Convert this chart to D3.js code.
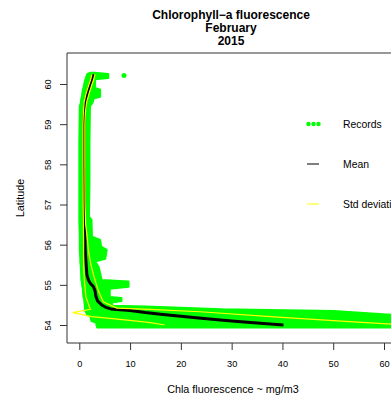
<!DOCTYPE html>
<html>
<head>
<meta charset="utf-8">
<script src="https://cdn.jsdelivr.net/npm/d3@7"></script>
<style>
    body { margin: 0; background: #fff; }
    text { font-family: "Liberation Sans", Arial, sans-serif; }
</style>
</head>
<body>
<div id="chart"></div>
<script>
const titleLines = ['Chlorophyll\u2212a fluorescence', 'February', '2015']
const xTicks = [0, 10, 20, 30, 40, 50, 60]
const yTicks = [54, 55, 56, 57, 58, 59, 60]
const legendLabels = ['Records', 'Mean', 'Std deviation']

// records envelope: latitude, min chla, max chla
const recordsLat = [60.28, 60.25, 60.15, 60.12, 59.9, 59.86, 59.68, 59.64, 59.53, 59.45, 58.5, 57.5, 56.7, 56.62, 56.2, 56.12, 55.95, 55.87, 55.65, 55.58, 55.45, 55.12, 55.08, 54.95, 54.9, 54.7, 54.67, 54.6, 54.56, 54.48, 54.46, 54.39, 54.35, 54.25, 54.2, 54.1, 54.06, 53.94]
const recordsMin = [2.2, 1.6, 1.3, 1.2, 0.8, 0.7, 0.5, 0.4, 0.3, 0.1, 0.0, 0.0, 0.0, 0.0, 0.1, 0.1, 0.1, 0.1, 0.2, 0.2, 0.3, 0.4, 0.5, 0.6, 0.7, 0.8, 0.9, 1.0, 1.0, 1.1, 1.1, 1.1, 1.2, 1.6, 2.2, 2.4, 3.3, 3.5]
const recordsMax = [3.0, 5.7, 5.7, 3.1, 3.1, 4.1, 4.1, 2.8, 2.6, 2.1, 2.0, 2.0, 1.9, 2.4, 2.5, 4.1, 4.3, 5.4, 5.1, 3.1, 3.8, 4.4, 9.7, 9.7, 6.0, 6.0, 8.3, 8.3, 6.4, 6.5, 13, 28, 50, 62, 66, 66, 66, 66]
const outlierChla = [8.8]
const outlierLat = [60.21]

const meanChla = [2.8, 2.5, 2.1, 1.6, 1.2, 1.0, 0.9, 0.9, 0.9, 0.95, 1.0, 1.0, 1.1, 1.2, 1.35, 1.5, 1.8, 2.2, 2.8, 3.1, 3.3, 3.6, 4.4, 5.2, 6.2, 8, 10, 13, 16, 20, 24, 30, 35, 40.2]
const meanLat = [60.24, 60.12, 59.98, 59.78, 59.55, 59.3, 59.0, 58.5, 58.0, 57.5, 57.0, 56.5, 56.1, 55.8, 55.5, 55.25, 55.12, 55.03, 54.95, 54.85, 54.7, 54.6, 54.5, 54.44, 54.4, 54.38, 54.36, 54.31, 54.27, 54.22, 54.17, 54.1, 54.05, 54.0]

const sdUpperChla = [3.1, 2.8, 2.4, 1.9, 1.45, 1.2, 1.1, 1.1, 1.15, 1.25, 1.6, 1.8, 2.3, 2.9, 3.7, 4.7, 7.4, 13.9, 23.8, 37.6, 50, 61.4, 65]
const sdUpperLat = [60.24, 60.1, 59.95, 59.75, 59.55, 59.3, 59.0, 58.0, 57.0, 56.5, 56.15, 55.85, 55.5, 55.2, 54.87, 54.58, 54.42, 54.39, 54.33, 54.21, 54.11, 54.02, 53.99]
const sdLowerChla = [2.5, 2.2, 1.8, 1.3, 0.95, 0.8, 0.7, 0.7, 0.75, 0.8, 0.85, 0.85, 1.0, 1.3, 2.0, 2.2, -1.3, 2.4, 9, 14, 16.8]
const sdLowerLat = [60.24, 60.1, 59.95, 59.75, 59.55, 59.3, 59.0, 58.0, 57.0, 56.5, 56.1, 55.5, 55.1, 54.7, 54.45, 54.39, 54.31, 54.21, 54.13, 54.06, 54.0]

const width = 391
const height = 399
const plot = { left: 67, right: 420, top: 53, bottom: 343 }

const svg = d3.select('#chart')
    .append('svg')
    .attr('width', width)
    .attr('height', height)

const x = d3.scaleLinear().domain([0, 60]).range([79.3, 384])
const y = d3.scaleLinear().domain([54, 60]).range([325, 84])

svg.append('clipPath')
    .attr('id', 'plot-clip')
    .append('rect')
    .attr('x', plot.left)
    .attr('y', plot.top)
    .attr('width', plot.right - plot.left)
    .attr('height', plot.bottom - plot.top)

const bounds = svg.append('g').attr('clip-path', 'url(#plot-clip)')

// records
const recordsArea = d3.area()
    .y(i => y(recordsLat[i]))
    .x0(i => x(recordsMin[i]))
    .x1(i => x(recordsMax[i]))
bounds.append('path')
    .attr('d', recordsArea(d3.range(recordsLat.length)))
    .attr('fill', '#00ff00')
    .attr('stroke', '#00ff00')
    .attr('stroke-width', 2)
    .attr('stroke-linejoin', 'round')
bounds.selectAll('.outlier')
    .data(outlierChla)
    .join('circle')
    .attr('cx', d => x(d))
    .attr('cy', (d, i) => y(outlierLat[i]))
    .attr('r', 2.5)
    .attr('fill', '#00ff00')

const line = (xs, ys) => d3.line()
    .x(i => x(xs[i]))
    .y(i => y(ys[i]))(d3.range(xs.length))

bounds.append('path')
    .attr('d', line(meanChla, meanLat))
    .attr('fill', 'none')
    .attr('stroke', '#000')
    .attr('stroke-width', 3)
    .attr('stroke-linejoin', 'round')

for (const [xs, ys] of [[sdUpperChla, sdUpperLat], [sdLowerChla, sdLowerLat]]) {
    bounds.append('path')
        .attr('d', line(xs, ys))
        .attr('fill', 'none')
        .attr('stroke', '#ffff00')
        .attr('stroke-width', 1.2)
}

// box
svg.append('path')
    .attr('d', `M${plot.right},${plot.top}H${plot.left}V${plot.bottom}H${plot.right}`)
    .attr('fill', 'none')
    .attr('stroke', '#333')

// axes
const xAxis = svg.append('g').attr('transform', `translate(0,${plot.bottom})`)
    .call(d3.axisBottom(x).tickValues(xTicks).tickSize(7).tickPadding(10).tickFormat(d3.format('d')))
xAxis.select('.domain').remove()
xAxis.selectAll('line').attr('stroke', '#333')
xAxis.selectAll('text').attr('font-size', 9.2).attr('fill', '#000')
    .attr('font-family', '"Liberation Sans", Arial, sans-serif')

const yAxis = svg.append('g').attr('transform', `translate(${plot.left},0)`)
    .call(d3.axisLeft(y).tickValues(yTicks).tickSize(7).tickFormat(d3.format('d')))
yAxis.select('.domain').remove()
yAxis.selectAll('line').attr('stroke', '#333')
yAxis.selectAll('text').remove()
yAxis.selectAll('.tick').append('text')
    .attr('transform', 'translate(-16,0) rotate(-90)')
    .attr('text-anchor', 'middle')
    .attr('font-size', 9.2)
    .attr('fill', '#000')
    .text(d => d)

// titles
svg.append('g').selectAll('text')
    .data(titleLines)
    .join('text')
    .attr('x', 231)
    .attr('y', (d, i) => 18.5 + i * 13)
    .attr('text-anchor', 'middle')
    .attr('font-size', 12)
    .attr('font-weight', 'bold')
    .text(d => d)

svg.append('text')
    .attr('x', 233)
    .attr('y', 393)
    .attr('text-anchor', 'middle')
    .attr('font-size', 10.8)
    .text('Chla fluorescence ~ mg/m3')

svg.append('text')
    .attr('transform', 'translate(24,198) rotate(-90)')
    .attr('text-anchor', 'middle')
    .attr('font-size', 10.8)
    .text('Latitude')

// legend
const legend = svg.append('g')
legendLabels.forEach((label, i) => {
    const ly = 124 + i * 40
    if (i === 0) {
        legend.selectAll('.dot')
            .data([308.5, 313.5, 318.5])
            .join('circle')
            .attr('cx', d => d)
            .attr('cy', ly)
            .attr('r', 2.2)
            .attr('fill', '#00ff00')
    } else {
        legend.append('line')
            .attr('x1', 307).attr('x2', 319)
            .attr('y1', ly).attr('y2', ly)
            .attr('stroke', i === 1 ? '#000' : '#ffff00')
    }
    legend.append('text')
        .attr('x', 343)
        .attr('y', ly + 3.8)
        .attr('font-size', 10.4)
        .text(label)
})
</script>
</body>
</html>
